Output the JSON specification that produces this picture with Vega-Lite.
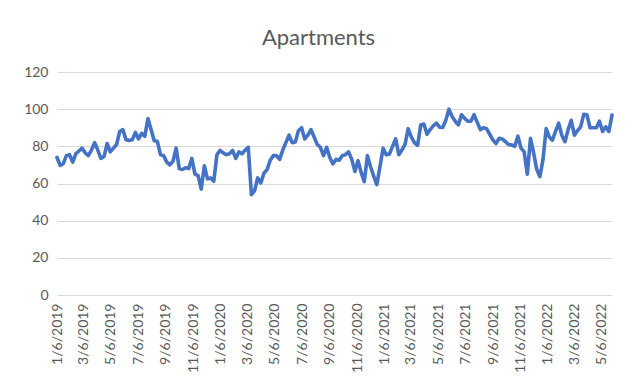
{
 "$schema": "https://vega.github.io/schema/vega-lite/v6.json",
 "width": 555,
 "height": 223,
 "autosize": "none",
 "padding": {"left": 57, "top": 72, "right": 25, "bottom": 97},
 "background": "white",
 "title": {"text": "Apartments", "fontSize": 22, "font": "Lato", "fontWeight": "normal", "color": "#595959", "anchor": "middle", "frame": "group", "dx": -16, "offset": 15},
 "config": {"view": {"stroke": null}, "font": "Lato"},
 "data": {"values": [
  {"date":"2019/01/06","v":74},{"date":"2019/01/13","v":69.8},{"date":"2019/01/20","v":70.7},{"date":"2019/01/27","v":75},
  {"date":"2019/02/03","v":75.5},{"date":"2019/02/10","v":71.5},{"date":"2019/02/17","v":76},{"date":"2019/02/24","v":77.5},
  {"date":"2019/03/03","v":79},{"date":"2019/03/10","v":76.5},{"date":"2019/03/17","v":75},{"date":"2019/03/24","v":78},{"date":"2019/03/31","v":82},
  {"date":"2019/04/07","v":78},{"date":"2019/04/14","v":73.5},{"date":"2019/04/21","v":74.5},{"date":"2019/04/28","v":81.5},
  {"date":"2019/05/05","v":77},{"date":"2019/05/12","v":79},{"date":"2019/05/19","v":81},{"date":"2019/05/26","v":88},
  {"date":"2019/06/02","v":89},{"date":"2019/06/09","v":83.5},{"date":"2019/06/16","v":83.2},{"date":"2019/06/23","v":83.5},{"date":"2019/06/30","v":87.5},
  {"date":"2019/07/07","v":84},{"date":"2019/07/14","v":87},{"date":"2019/07/21","v":85.4},{"date":"2019/07/28","v":95},
  {"date":"2019/08/04","v":89},{"date":"2019/08/11","v":83},{"date":"2019/08/18","v":82.7},{"date":"2019/08/25","v":75.5},
  {"date":"2019/09/01","v":75},{"date":"2019/09/08","v":71.5},{"date":"2019/09/15","v":70},{"date":"2019/09/22","v":72},{"date":"2019/09/29","v":79},
  {"date":"2019/10/06","v":68},{"date":"2019/10/13","v":67.5},{"date":"2019/10/20","v":68.5},{"date":"2019/10/27","v":68},
  {"date":"2019/11/03","v":73.5},{"date":"2019/11/10","v":65},{"date":"2019/11/17","v":64.2},{"date":"2019/11/24","v":57},
  {"date":"2019/12/01","v":69.5},{"date":"2019/12/08","v":62.5},{"date":"2019/12/15","v":63},{"date":"2019/12/22","v":61.2},{"date":"2019/12/29","v":75.5},
  {"date":"2020/01/05","v":77.8},{"date":"2020/01/12","v":76.5},{"date":"2020/01/19","v":75.5},{"date":"2020/01/26","v":76},
  {"date":"2020/02/02","v":77.8},{"date":"2020/02/09","v":73.5},{"date":"2020/02/16","v":77},{"date":"2020/02/23","v":76},
  {"date":"2020/03/01","v":78},{"date":"2020/03/08","v":79.5},{"date":"2020/03/15","v":54},{"date":"2020/03/22","v":56},{"date":"2020/03/29","v":63},
  {"date":"2020/04/05","v":60.3},{"date":"2020/04/12","v":65.5},{"date":"2020/04/19","v":67.5},{"date":"2020/04/26","v":72.5},
  {"date":"2020/05/03","v":75},{"date":"2020/05/10","v":75},{"date":"2020/05/17","v":73},{"date":"2020/05/24","v":78},{"date":"2020/05/31","v":82},
  {"date":"2020/06/07","v":86},{"date":"2020/06/14","v":82},{"date":"2020/06/21","v":82.3},{"date":"2020/06/28","v":88.4},
  {"date":"2020/07/05","v":90},{"date":"2020/07/12","v":84},{"date":"2020/07/19","v":86},{"date":"2020/07/26","v":89},
  {"date":"2020/08/02","v":85},{"date":"2020/08/09","v":81},{"date":"2020/08/16","v":79.5},{"date":"2020/08/23","v":75},{"date":"2020/08/30","v":79.5},
  {"date":"2020/09/06","v":74},{"date":"2020/09/13","v":70.5},{"date":"2020/09/20","v":73},{"date":"2020/09/27","v":72.5},
  {"date":"2020/10/04","v":75},{"date":"2020/10/11","v":75.5},{"date":"2020/10/18","v":77},{"date":"2020/10/25","v":73},
  {"date":"2020/11/01","v":66.5},{"date":"2020/11/08","v":72.3},{"date":"2020/11/15","v":66},{"date":"2020/11/22","v":61},{"date":"2020/11/29","v":75},
  {"date":"2020/12/06","v":69},{"date":"2020/12/13","v":64},{"date":"2020/12/20","v":59.4},{"date":"2020/12/27","v":69},
  {"date":"2021/01/03","v":79},{"date":"2021/01/10","v":75.5},{"date":"2021/01/17","v":75.8},{"date":"2021/01/24","v":80},{"date":"2021/01/31","v":84},
  {"date":"2021/02/07","v":75.5},{"date":"2021/02/14","v":78},{"date":"2021/02/21","v":81},{"date":"2021/02/28","v":89.5},
  {"date":"2021/03/07","v":85},{"date":"2021/03/14","v":82},{"date":"2021/03/21","v":80.5},{"date":"2021/03/28","v":91.5},
  {"date":"2021/04/04","v":92},{"date":"2021/04/11","v":86.5},{"date":"2021/04/18","v":89},{"date":"2021/04/25","v":91},
  {"date":"2021/05/02","v":92.5},{"date":"2021/05/09","v":90.3},{"date":"2021/05/16","v":90.1},{"date":"2021/05/23","v":94},{"date":"2021/05/30","v":100},
  {"date":"2021/06/06","v":96},{"date":"2021/06/13","v":93.5},{"date":"2021/06/20","v":91.5},{"date":"2021/06/27","v":97},
  {"date":"2021/07/04","v":95},{"date":"2021/07/11","v":93.5},{"date":"2021/07/18","v":93.5},{"date":"2021/07/25","v":97},
  {"date":"2021/08/01","v":93},{"date":"2021/08/08","v":89},{"date":"2021/08/15","v":90},{"date":"2021/08/22","v":89.5},{"date":"2021/08/29","v":86.5},
  {"date":"2021/09/05","v":83.5},{"date":"2021/09/12","v":81.5},{"date":"2021/09/19","v":84.3},{"date":"2021/09/26","v":84},
  {"date":"2021/10/03","v":82.5},{"date":"2021/10/10","v":81},{"date":"2021/10/17","v":80.8},{"date":"2021/10/24","v":80},{"date":"2021/10/31","v":85.5},
  {"date":"2021/11/07","v":79},{"date":"2021/11/14","v":77},{"date":"2021/11/21","v":65},{"date":"2021/11/28","v":84.3},
  {"date":"2021/12/05","v":76.5},{"date":"2021/12/12","v":67.5},{"date":"2021/12/19","v":63.7},{"date":"2021/12/26","v":73},
  {"date":"2022/01/02","v":89.5},{"date":"2022/01/09","v":85},{"date":"2022/01/16","v":83.3},{"date":"2022/01/23","v":88},{"date":"2022/01/30","v":92.5},
  {"date":"2022/02/06","v":86},{"date":"2022/02/13","v":82.5},{"date":"2022/02/20","v":89},{"date":"2022/02/27","v":94},
  {"date":"2022/03/06","v":86},{"date":"2022/03/13","v":88.5},{"date":"2022/03/20","v":90.5},{"date":"2022/03/27","v":97.2},
  {"date":"2022/04/03","v":97},{"date":"2022/04/10","v":90},{"date":"2022/04/17","v":90},{"date":"2022/04/24","v":90},
  {"date":"2022/05/01","v":93.5},{"date":"2022/05/08","v":88},{"date":"2022/05/15","v":90.5},{"date":"2022/05/22","v":88},{"date":"2022/05/29","v":96.8}
 ]},
 "mark": {"type": "line", "color": "#4472C4", "strokeWidth": 3.6, "strokeJoin": "round", "strokeCap": "round"},
 "encoding": {
  "x": {
   "field": "date", "type": "temporal",
   "scale": {"domain": [{"year": 2019, "month": 1, "date": 6}, {"year": 2022, "month": 5, "date": 29}], "nice": false},
   "axis": {
    "title": null,
    "values": [
     {"year": 2019, "month": 1, "date": 6}, {"year": 2019, "month": 3, "date": 6}, {"year": 2019, "month": 5, "date": 6},
     {"year": 2019, "month": 7, "date": 6}, {"year": 2019, "month": 9, "date": 6}, {"year": 2019, "month": 11, "date": 6},
     {"year": 2020, "month": 1, "date": 6}, {"year": 2020, "month": 3, "date": 6}, {"year": 2020, "month": 5, "date": 6},
     {"year": 2020, "month": 7, "date": 6}, {"year": 2020, "month": 9, "date": 6}, {"year": 2020, "month": 11, "date": 6},
     {"year": 2021, "month": 1, "date": 6}, {"year": 2021, "month": 3, "date": 6}, {"year": 2021, "month": 5, "date": 6},
     {"year": 2021, "month": 7, "date": 6}, {"year": 2021, "month": 9, "date": 6}, {"year": 2021, "month": 11, "date": 6},
     {"year": 2022, "month": 1, "date": 6}, {"year": 2022, "month": 3, "date": 6}, {"year": 2022, "month": 5, "date": 6}
    ],
    "format": "%-m/%-d/%Y",
    "labelAngle": -90,
    "labelFontSize": 14,
    "labelColor": "#595959",
    "labelFont": "Lato",
    "grid": false,
    "ticks": false,
    "tickSize": 0,
    "domain": false,
    "labelPadding": 8,
    "labelOverlap": false,
    "labelBound": false,
    "labelFlush": false
   }
  },
  "y": {
   "field": "v", "type": "quantitative",
   "scale": {"domain": [0, 120], "nice": false},
   "axis": {
    "title": null,
    "values": [0, 20, 40, 60, 80, 100, 120],
    "grid": true,
    "gridColor": "#d9d9d9",
    "gridWidth": 1,
    "domain": false,
    "ticks": false,
    "tickSize": 0,
    "labelPadding": 9,
    "labelFontSize": 14,
    "labelColor": "#595959",
    "labelFont": "Lato"
   }
  }
 }
}
